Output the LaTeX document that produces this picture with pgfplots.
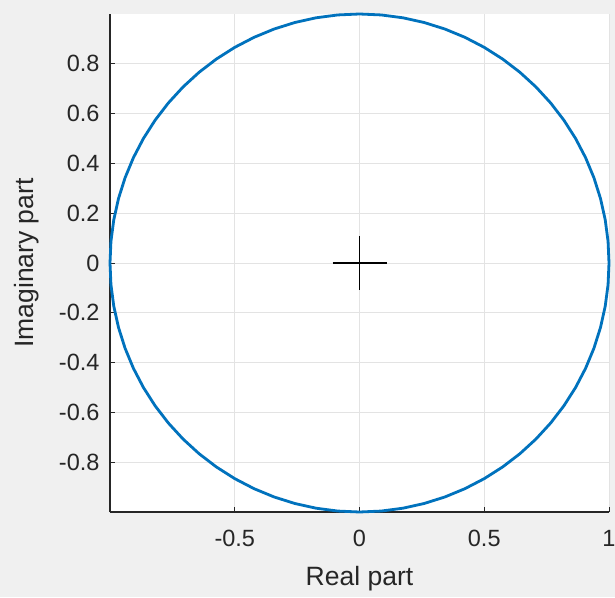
\documentclass[border=0pt]{standalone}
\usepackage{fontspec}
\setmainfont{Liberation Sans}
\usepackage{pgfplots}
\pgfplotsset{compat=1.18}
\definecolor{mblue}{HTML}{0072BD}
\definecolor{bgray}{HTML}{F0F0F0}
\definecolor{axgray}{HTML}{262626}
\definecolor{gridgray}{HTML}{E3E3E3}
\begin{document}
\begin{tikzpicture}[x=1pt,y=1pt]
\fill[bgray] (-110,-85) rectangle (505,512);
\useasboundingbox (-110,-85) rectangle (505,512);
\begin{axis}[
  at={(0,0)}, anchor=south west,
  scale only axis, width=499pt, height=498pt,
  xmin=-1, xmax=1, ymin=-1, ymax=1,
  axis x line=bottom, axis y line=left,
  axis line style={-, axgray, line width=1.3pt},
  axis background/.style={fill=white},
  xtick={-0.5,0,0.5,1}, ytick={-0.8,-0.6,...,0.8},
  xticklabels={-0.5,0,0.5,1},
  yticklabels={-0.8,-0.6,-0.4,-0.2,0,0.2,0.4,0.6,0.8},
  tick align=inside, major tick length=5pt,
  tick style={axgray, line width=0.9pt},
  grid=major, major grid style={gridgray, line width=0.9pt},
  ticklabel style={font=\fontsize{23.5}{23.5}\selectfont, text=axgray},
  xticklabel style={yshift=-15pt},
  yticklabel style={xshift=-7pt},
  /pgf/number format/assume math mode=true,
  xlabel={Real part}, ylabel={Imaginary part},
  label style={font=\fontsize{26.5}{26.5}\selectfont, text=axgray},
  xlabel style={yshift=-12pt},
  ylabel style={yshift=13pt},
  clip=false,
]
\addplot[mblue, line width=2.8pt, line join=round] coordinates {
(1,0) (0.99619,0.08716) (0.98481,0.17365) (0.96593,0.25882) (0.93969,0.34202)
(0.90631,0.42262) (0.86603,0.5) (0.81915,0.57358) (0.76604,0.64279) (0.70711,0.70711)
(0.64279,0.76604) (0.57358,0.81915) (0.5,0.86603) (0.42262,0.90631) (0.34202,0.93969)
(0.25882,0.96593) (0.17365,0.98481) (0.08716,0.99619) (0,1)
(-0.08716,0.99619) (-0.17365,0.98481) (-0.25882,0.96593) (-0.34202,0.93969) (-0.42262,0.90631)
(-0.5,0.86603) (-0.57358,0.81915) (-0.64279,0.76604) (-0.70711,0.70711) (-0.76604,0.64279)
(-0.81915,0.57358) (-0.86603,0.5) (-0.90631,0.42262) (-0.93969,0.34202) (-0.96593,0.25882)
(-0.98481,0.17365) (-0.99619,0.08716) (-1,0)
(-0.99619,-0.08716) (-0.98481,-0.17365) (-0.96593,-0.25882) (-0.93969,-0.34202) (-0.90631,-0.42262)
(-0.86603,-0.5) (-0.81915,-0.57358) (-0.76604,-0.64279) (-0.70711,-0.70711) (-0.64279,-0.76604)
(-0.57358,-0.81915) (-0.5,-0.86603) (-0.42262,-0.90631) (-0.34202,-0.93969) (-0.25882,-0.96593)
(-0.17365,-0.98481) (-0.08716,-0.99619) (0,-1)
(0.08716,-0.99619) (0.17365,-0.98481) (0.25882,-0.96593) (0.34202,-0.93969) (0.42262,-0.90631)
(0.5,-0.86603) (0.57358,-0.81915) (0.64279,-0.76604) (0.70711,-0.70711) (0.76604,-0.64279)
(0.81915,-0.57358) (0.86603,-0.5) (0.90631,-0.42262) (0.93969,-0.34202) (0.96593,-0.25882)
(0.98481,-0.17365) (0.99619,-0.08716) (1,0)
};
\addplot[only marks, mark=+, mark size=27pt, mark options={black, line width=1.5pt}] coordinates {(0,0)};
\end{axis}
\end{tikzpicture}
\end{document}
